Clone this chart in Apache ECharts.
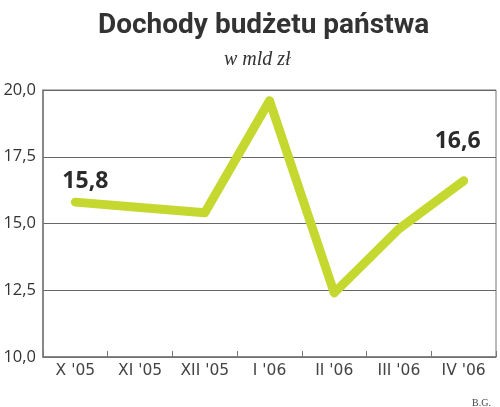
<!DOCTYPE html>
<html>
<head>
<meta charset="utf-8">
<script src="https://cdn.jsdelivr.net/npm/echarts@6/dist/echarts.min.js"></script>
<style>html,body{margin:0;padding:0;background:#fff;}#c{width:500px;height:407px;}</style>
</head>
<body>
<div id="c"></div>
<script>
var categories = ["X '05", "XI '05", "XII '05", "I '06", "II '06", "III '06", "IV '06"];
var values = [15.8, 15.6, 15.4, 19.6, 12.4, 14.8, 16.6];
var yTicks = [10, 12.5, 15, 17.5, 20];
var titleText = "Dochody budżetu państwa";
var subtitleText = "w mld zł";
var sourceText = "B.G.";

function fmt(v){ return v.toFixed(1).replace('.', ','); }

var seriesData = values.map(function(v, i){
  var d = {value: v};
  if (i === 0) {
    d.label = {show: true, position: 'top', offset: [10, -4]};
  } else if (i === values.length - 1) {
    d.label = {show: true, position: 'top', offset: [-6, -22]};
  }
  return d;
});

var chart = echarts.init(document.getElementById('c'), null, {renderer: 'canvas'});
chart.setOption({
  animation: false,
  backgroundColor: '#fff',
  title: [
    {text: titleText, left: 93, top: 7,
     textStyle: {fontFamily: 'Roboto', fontWeight: 'bold', fontSize: 28, color: '#333'}},
    {text: subtitleText, left: 219, top: 45,
     textStyle: {fontFamily: 'Liberation Serif', fontStyle: 'italic', fontWeight: 'normal', fontSize: 20, color: '#333'}},
    {text: sourceText, right: 4, top: 393,
     textStyle: {fontFamily: 'Liberation Serif', fontWeight: 'normal', fontSize: 10, color: '#444'}}
  ],
  grid: {left: 43, right: 4, top: 90, bottom: 50, show: true, borderColor: '#777', borderWidth: 1},
  xAxis: {
    type: 'category', data: categories, boundaryGap: true,
    axisLine: {lineStyle: {color: '#777', width: 1.5}},
    axisTick: {show: true, inside: true, length: 6, interval: 0, lineStyle: {color: '#777'}},
    axisLabel: {fontFamily: 'DejaVu Sans', fontSize: 15.5, color: '#444', margin: 6, interval: 0, hideOverlap: false}
  },
  yAxis: {
    type: 'value', min: 10, max: 20, interval: 2.5,
    axisLine: {show: true, lineStyle: {color: '#777', width: 1.5}},
    axisTick: {show: false},
    splitLine: {lineStyle: {color: '#666', width: 1}},
    axisLabel: {fontFamily: 'Open Sans', fontSize: 16.5, color: '#333', margin: 7,
      formatter: function(v){ return fmt(v); }}
  },
  series: [{
    type: 'line', data: seriesData, symbol: 'circle', symbolSize: 1, showSymbol: true,
    itemStyle: {color: '#c5d82f'},
    lineStyle: {color: '#c5d82f', width: 9, cap: 'round', join: 'round'},
    label: {show: false, fontFamily: 'Open Sans', fontWeight: 'bold', fontSize: 23, color: '#2b2b2b',
      formatter: function(p){ return fmt(p.value); }}
  }]
});
</script>
</body>
</html>
